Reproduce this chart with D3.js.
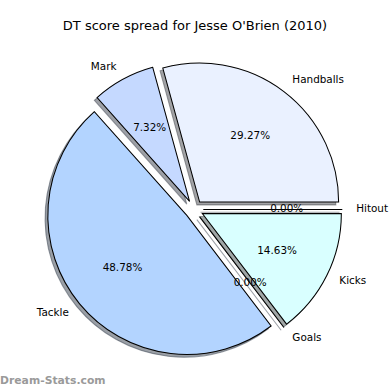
<!DOCTYPE html>
<html>
<head>
<meta charset="utf-8">
<script src="https://cdn.jsdelivr.net/npm/d3@7"></script>
<style>
  html, body { margin: 0; padding: 0; background: #ffffff; }
  svg { display: block; font-family: "DejaVu Sans", sans-serif; }
</style>
</head>
<body>
<svg id="chart" width="390" height="390"></svg>
<script>
// ---- data ----
const categories = ["Hitout", "Handballs", "Mark", "Tackle", "Goals", "Kicks"];
const values = [0, 12, 3, 20, 0, 6];
const sliceColors = ["#cfe0ff", "#eaf1ff", "#c5d9ff", "#b3d4ff", "#c2d9ff", "#d9ffff"];
const titleText = "DT score spread for Jesse O'Brien (2010)";
const watermark = "Dream-Stats.com";

// ---- layout ----
const W = 390, H = 390;
const cx = 194, cy = 209.5, R = 139;
const explode = 9.3;
const shadowOff = 0.02 * R;
const labelDist = 1.1, pctDist = 0.6;
const labelFont = 10.42;

const svg = d3.select("#chart");
svg.append("rect").attr("width", W).attr("height", H).attr("fill", "#fff");

const total = d3.sum(values);
const data = categories.map((c, i) => ({ name: c, value: values[i], color: sliceColors[i] }));

// matplotlib style: start at 3 o'clock, counter-clockwise
const pie = d3.pie().sort(null).value(d => d.value)
  .startAngle(Math.PI / 2).endAngle(Math.PI / 2 - 2 * Math.PI);
const arcs = pie(data);
const arc = d3.arc().innerRadius(0).outerRadius(R);

function mid(a) { return (a.startAngle + a.endAngle) / 2; }
function offset(a, dist) {
  const m = mid(a);
  return [Math.sin(m) * dist, -Math.cos(m) * dist];
}

function shade(c) {
  const col = d3.rgb(c);
  return d3.rgb(col.r * 0.3, col.g * 0.3, col.b * 0.3).toString();
}

// shadows
const gShadow = svg.append("g");
arcs.forEach(a => {
  const [ox, oy] = offset(a, explode);
  gShadow.append("path")
    .attr("d", arc(a))
    .attr("transform", `translate(${cx + ox - shadowOff},${cy + oy + shadowOff})`)
    .attr("fill", shade(a.data.color)).attr("fill-opacity", 0.5)
    .attr("stroke", shade(a.data.color)).attr("stroke-opacity", 0.5)
    .attr("stroke-width", 1.04).attr("stroke-linejoin", "miter");
});

// wedges
const gWedge = svg.append("g");
arcs.forEach(a => {
  const [ox, oy] = offset(a, explode);
  gWedge.append("path")
    .attr("d", arc(a))
    .attr("transform", `translate(${cx + ox},${cy + oy})`)
    .attr("fill", a.data.color)
    .attr("stroke", "#000").attr("stroke-width", 1.04).attr("stroke-linejoin", "miter");
});

// labels
const gText = svg.append("g").attr("font-size", labelFont).attr("fill", "#000");
const baseShift = 0.276 * labelFont;
arcs.forEach(a => {
  const [ox, oy] = offset(a, explode);
  const [lx, ly] = offset(a, labelDist * R);
  const xt = ox + lx;
  gText.append("text")
    .attr("x", cx + xt).attr("y", cy + oy + ly + baseShift)
    .attr("text-anchor", xt > 0 ? "start" : "end")
    .text(a.data.name);
  const [px, py] = offset(a, pctDist * R);
  gText.append("text")
    .attr("x", cx + ox + px).attr("y", cy + oy + py + baseShift)
    .attr("text-anchor", "middle")
    .text((a.data.value / total * 100).toFixed(2) + "%");
});

// title
svg.append("text")
  .attr("x", 195).attr("y", 29.5)
  .attr("text-anchor", "middle")
  .attr("font-size", 13)
  .attr("fill", "#000")
  .text(titleText);

// watermark
svg.append("text")
  .attr("x", 0).attr("y", 384)
  .attr("font-size", 10.8)
  .attr("font-weight", "bold")
  .attr("fill", "#9a9a9a")
  .text(watermark);
</script>
</body>
</html>
